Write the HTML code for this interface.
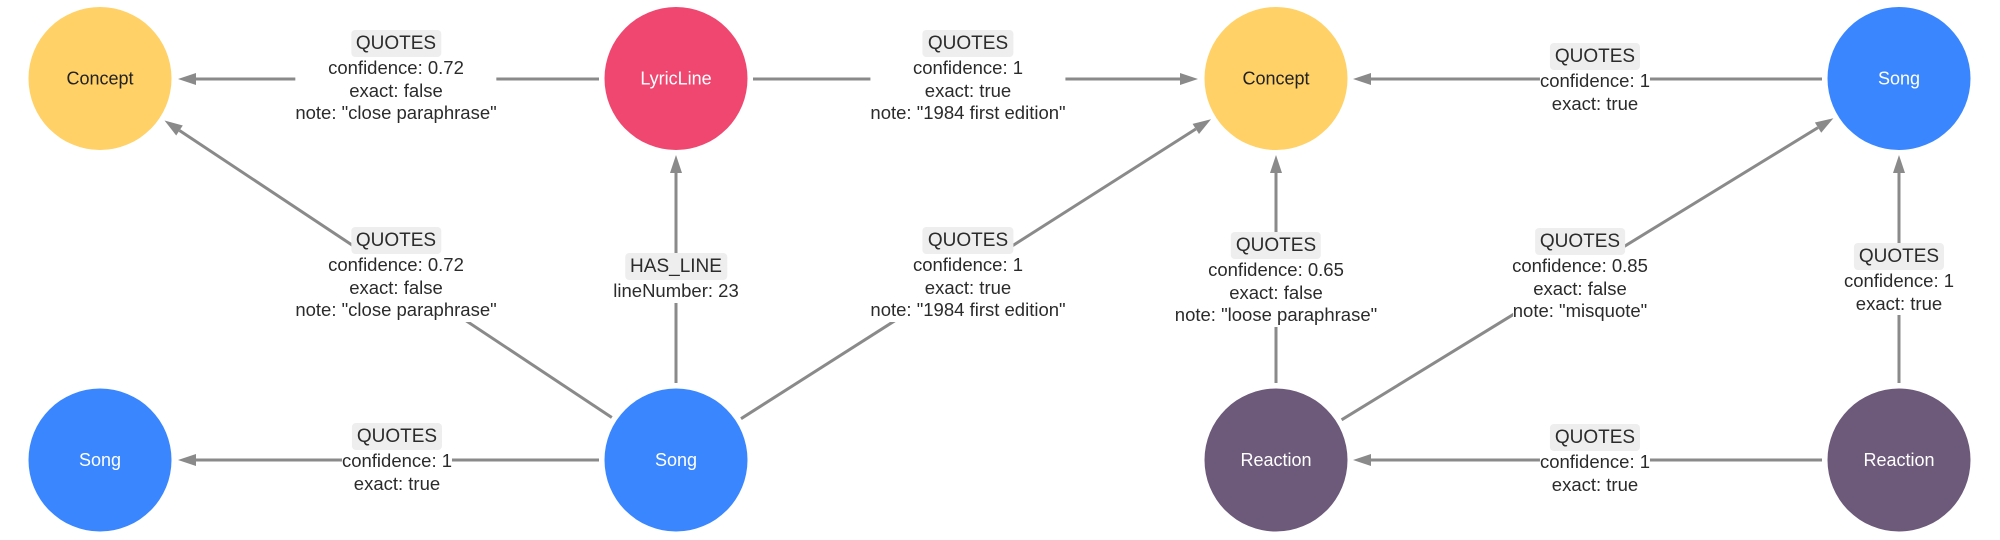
<!DOCTYPE html>
<html>
<head>
<meta charset="utf-8">
<style>
html,body{margin:0;padding:0;background:#fff;}
#c{position:relative;width:2000px;height:540px;overflow:hidden;background:#fff;}
svg{position:absolute;left:0;top:0;}
.lb{position:absolute;transform:translateX(-50%);display:flex;flex-direction:column;align-items:center;white-space:nowrap;font-family:"Liberation Sans",sans-serif;color:#2b2b2b;}
.t{font-size:19px;line-height:27px;height:27px;padding:0 5px;background:#eeeeee;border-radius:4px;}
.p{font-size:18.5px;line-height:22.7px;height:22.7px;background:#fff;}
.h .p{align-self:stretch;text-align:center;}
</style>
</head>
<body>
<div id="c">
<svg width="2000" height="540" viewBox="0 0 2000 540">
  <g stroke="#8a8a8a" stroke-width="3" fill="none">
    <line x1="599" y1="79" x2="195" y2="79"/>
    <line x1="611.8" y1="417.5" x2="179.5" y2="130.5"/>
    <line x1="599" y1="460" x2="195" y2="460"/>
    <line x1="676" y1="383" x2="676" y2="172"/>
    <line x1="753" y1="79" x2="1181" y2="79"/>
    <line x1="741" y1="418.7" x2="1195.8" y2="129"/>
    <line x1="1276" y1="383" x2="1276" y2="172"/>
    <line x1="1822" y1="79" x2="1370" y2="79"/>
    <line x1="1341.6" y1="419.8" x2="1818" y2="127.6"/>
    <line x1="1899" y1="383" x2="1899" y2="172"/>
    <line x1="1822" y1="460" x2="1370" y2="460"/>
  </g>
  <g fill="#8a8a8a">
    <polygon points="178,79 196,73 196,85"/>
    <polygon points="164.5,120.5 176.2,135.45 182.8,125.45"/>
    <polygon points="178,460 196,454 196,466"/>
    <polygon points="676,155 670,173 682,173"/>
    <polygon points="1198,79 1180,73 1180,85"/>
    <polygon points="1211,119.3 1199.0,134.0 1192.6,123.9"/>
    <polygon points="1276,155 1270,173 1282,173"/>
    <polygon points="1353,79 1371,73 1371,85"/>
    <polygon points="1833.4,118.2 1821.2,132.7 1814.9,122.5"/>
    <polygon points="1899,155 1893,173 1905,173"/>
    <polygon points="1353,460 1371,454 1371,466"/>
  </g>
  <g font-family="Liberation Sans, sans-serif" font-size="18" text-anchor="middle">
    <circle cx="100" cy="78.5" r="71.5" fill="#FFD166"/>
    <text x="100" y="84.5" fill="#222">Concept</text>
    <circle cx="676" cy="78.5" r="71.5" fill="#EF476F"/>
    <text x="676" y="84.5" fill="#fff">LyricLine</text>
    <circle cx="1276" cy="78.5" r="71.5" fill="#FFD166"/>
    <text x="1276" y="84.5" fill="#222">Concept</text>
    <circle cx="1899" cy="78.5" r="71.5" fill="#3A86FF"/>
    <text x="1899" y="84.5" fill="#fff">Song</text>
    <circle cx="100" cy="460" r="71.5" fill="#3A86FF"/>
    <text x="100" y="466" fill="#fff">Song</text>
    <circle cx="676" cy="460" r="71.5" fill="#3A86FF"/>
    <text x="676" y="466" fill="#fff">Song</text>
    <circle cx="1276" cy="460" r="71.5" fill="#6D597A"/>
    <text x="1276" y="466" fill="#fff">Reaction</text>
    <circle cx="1899" cy="460" r="71.5" fill="#6D597A"/>
    <text x="1899" y="466" fill="#fff">Reaction</text>
  </g>
</svg>

<div class="lb h" style="left:396px;top:30px">
  <div class="t">QUOTES</div>
  <div class="p">confidence: 0.72</div>
  <div class="p">exact: false</div>
  <div class="p">note: "close paraphrase"</div>
</div>

<div class="lb" style="left:396px;top:227px">
  <div class="t">QUOTES</div>
  <div class="p">confidence: 0.72</div>
  <div class="p">exact: false</div>
  <div class="p">note: "close paraphrase"</div>
</div>

<div class="lb h" style="left:397px;top:423px">
  <div class="t">QUOTES</div>
  <div class="p">confidence: 1</div>
  <div class="p">exact: true</div>
</div>

<div class="lb" style="left:676px;top:253px">
  <div class="t">HAS_LINE</div>
  <div class="p">lineNumber: 23</div>
</div>

<div class="lb h" style="left:968px;top:30px">
  <div class="t">QUOTES</div>
  <div class="p">confidence: 1</div>
  <div class="p">exact: true</div>
  <div class="p">note: "1984 first edition"</div>
</div>

<div class="lb" style="left:968px;top:227px">
  <div class="t">QUOTES</div>
  <div class="p">confidence: 1</div>
  <div class="p">exact: true</div>
  <div class="p">note: "1984 first edition"</div>
</div>

<div class="lb" style="left:1276px;top:232px">
  <div class="t">QUOTES</div>
  <div class="p">confidence: 0.65</div>
  <div class="p">exact: false</div>
  <div class="p">note: "loose paraphrase"</div>
</div>

<div class="lb h" style="left:1595px;top:43px">
  <div class="t">QUOTES</div>
  <div class="p">confidence: 1</div>
  <div class="p">exact: true</div>
</div>

<div class="lb" style="left:1580px;top:228px">
  <div class="t">QUOTES</div>
  <div class="p">confidence: 0.85</div>
  <div class="p">exact: false</div>
  <div class="p">note: "misquote"</div>
</div>

<div class="lb" style="left:1899px;top:243px">
  <div class="t">QUOTES</div>
  <div class="p">confidence: 1</div>
  <div class="p">exact: true</div>
</div>

<div class="lb h" style="left:1595px;top:424px">
  <div class="t">QUOTES</div>
  <div class="p">confidence: 1</div>
  <div class="p">exact: true</div>
</div>

</div>
</body>
</html>
